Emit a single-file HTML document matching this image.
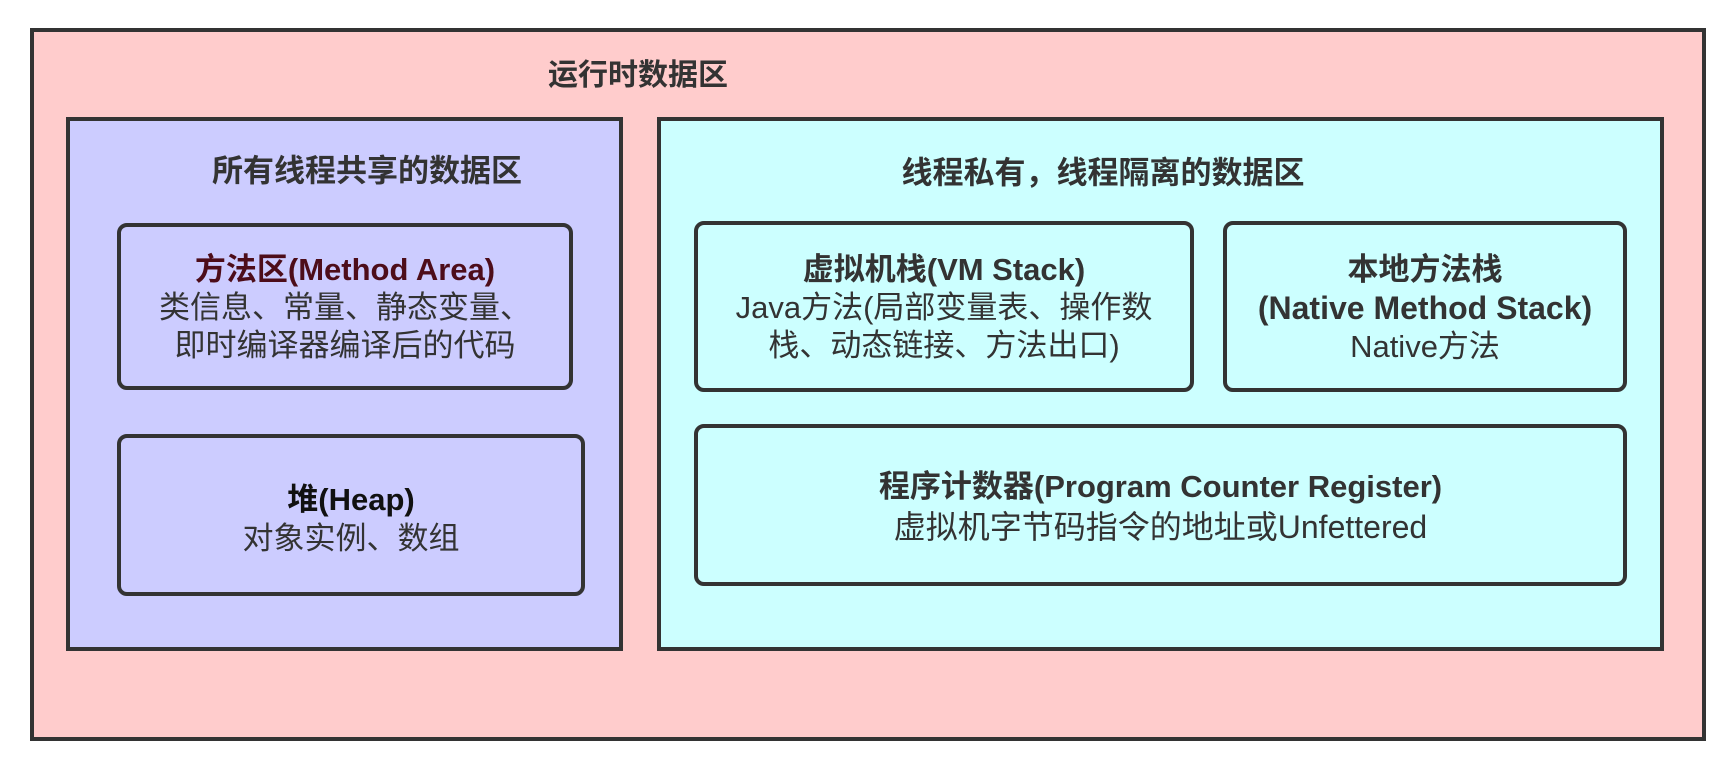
<!DOCTYPE html>
<html>
<head>
<meta charset="utf-8">
<style>
  html, body { margin:0; padding:0; background:#ffffff; }
  body { width:1732px; height:768px; position:relative; overflow:hidden;
         font-family:"Liberation Sans","Noto Sans CJK SC",sans-serif; color:#333; }
  .box { position:absolute; box-sizing:border-box; border:4px solid #333; }
  .outer { left:30px; top:28px; width:1676px; height:713px; background:#ffcccc; }
  .purple { left:66px; top:117px; width:557px; height:534px; background:#ccccff; }
  .cyan { left:657px; top:117px; width:1007px; height:534px; background:#ccffff; }
  .node { border-radius:10px; display:flex; align-items:center; justify-content:center;
          text-align:center; font-size:31px; line-height:38px; }
  .title { position:absolute; font-weight:bold; white-space:nowrap; transform:translate(-50%,-50%); color:#333; }
  b { font-weight:bold; }
</style>
</head>
<body>
  <div class="box outer"></div>
  <div class="title" style="left:638px; top:72px; font-size:30px;">运行时数据区</div>

  <div class="box purple"></div>
  <div class="title" style="left:367px; top:168px; font-size:31px;">所有线程共享的数据区</div>

  <div class="box cyan"></div>
  <div class="title" style="left:1103px; top:170px; font-size:31px;">线程私有，线程隔离的数据区</div>

  <div class="box node" style="left:117px; top:223px; width:456px; height:167px; padding-top:3px;">
    <div><b style="color:#4d0d1a;">方法区(Method Area)</b><br>类信息、常量、静态变量、<br>即时编译器编译后的代码</div>
  </div>

  <div class="box node" style="left:117px; top:434px; width:468px; height:162px; padding-top:7px; line-height:39px;">
    <div><b style="color:#111;">堆(Heap)</b><br>对象实例、数组</div>
  </div>

  <div class="box node" style="left:694px; top:221px; width:500px; height:171px; padding-top:3px;">
    <div><b>虚拟机栈(VM Stack)</b><br>Java方法(局部变量表、操作数<br>栈、动态链接、方法出口)</div>
  </div>

  <div class="box node" style="left:1223px; top:221px; width:404px; height:171px; padding-top:3px;">
    <div><b>本地方法栈</b><br><b style="font-size:32px;">(Native Method Stack)</b><br>Native方法</div>
  </div>

  <div class="box node" style="left:694px; top:424px; width:933px; height:162px; padding-top:4px; line-height:40px;">
    <div><b>程序计数器(Program Counter Register)</b><br><span style="font-size:32px;">虚拟机字节码指令的地址或Unfettered</span></div>
  </div>
</body>
</html>
